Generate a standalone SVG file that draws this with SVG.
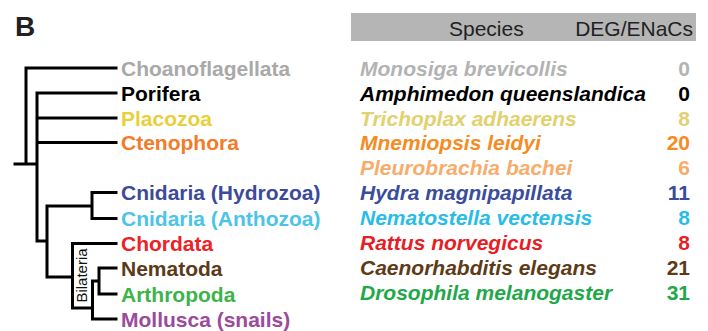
<svg xmlns="http://www.w3.org/2000/svg" width="708" height="331" viewBox="0 0 708 331">
<style>
.t{font-family:"Liberation Sans",Arial,sans-serif;font-size:21px;font-weight:bold}
.s{font-family:"Liberation Sans",Arial,sans-serif;font-size:21px;font-weight:bold;font-style:italic}
.n{font-family:"Liberation Sans",Arial,sans-serif;font-size:21px;font-weight:bold;text-anchor:end}
.h{font-family:"Liberation Sans",Arial,sans-serif;font-size:21px;fill:#222}
.br{fill:none;stroke:#000;stroke-width:3;stroke-linecap:square;stroke-linejoin:miter}
</style>
<rect width="708" height="331" fill="#fff"/>
<text x="15" y="36" font-family="Liberation Sans,Arial,sans-serif" font-size="28" font-weight="bold" fill="#222">B</text>
<g id="connectors">
<path class="br" d="M15,164H37 M26,164V68H116 M37,241V93H116 M37,118H116 M37,142.5H116 M37,241H47 M47,277V206H92 M92,192.5V218.5 M92,192.5H116 M92,218.5H116 M47,277H72.5 M72.5,308V243.5H116 M72.5,308H92.5 M92.5,281V319H116 M92.5,281H99 M99,268V294 M99,268H116 M99,294H116"/>
</g>
<g id="bilateria"><text x="0" y="0" transform="translate(87,275.5) rotate(-90)" text-anchor="middle" font-family="Liberation Sans,Arial,sans-serif" font-size="15" fill="#111">Bilateria</text></g>
<g id="taxa">
<text id="choanoflagellata" class="t" x="121" y="75.5" fill="#a9a9a9">Choanoflagellata</text>
<text id="porifera" class="t" x="121" y="100.5" fill="#000">Porifera</text>
<text id="placozoa" class="t" x="121" y="125.5" fill="#e8cf3c">Placozoa</text>
<text id="ctenophora" class="t" x="121" y="150" fill="#f47b2a">Ctenophora</text>
<text id="hydrozoa" class="t" x="121" y="200" fill="#3c4a9b">Cnidaria (Hydrozoa)</text>
<text id="anthozoa" class="t" x="121" y="226" fill="#4cc4e8">Cnidaria (Anthozoa)</text>
<text id="chordata" class="t" x="121" y="251" fill="#ec2227">Chordata</text>
<text id="nematoda" class="t" x="121" y="275.5" fill="#5b3b17">Nematoda</text>
<text id="arthropoda" class="t" x="121" y="301.5" fill="#3cb44a">Arthropoda</text>
<text id="mollusca" class="t" x="121" y="326.5" fill="#9b4a9c">Mollusca (snails)</text>
</g>
<g id="header">
<rect x="351" y="13" width="345" height="28" fill="#b5b5b5"/>
<text class="h" x="449" y="36">Species</text>
<text class="h" x="693" y="36" text-anchor="end">DEG/ENaCs</text>
</g>
<g id="species">
<text class="s" x="360" y="75.5" fill="#b3b3b3">Monosiga brevicollis</text>
<text class="s" x="360" y="100.5" fill="#000">Amphimedon queenslandica</text>
<text class="s" x="360" y="125.5" fill="#e2d16e">Trichoplax adhaerens</text>
<text class="s" x="360" y="150" fill="#f68b1f">Mnemiopsis leidyi</text>
<text class="s" x="360" y="175" fill="#f8ac6b">Pleurobrachia bachei</text>
<text class="s" x="360" y="200" fill="#3a4c9c">Hydra magnipapillata</text>
<text class="s" x="360" y="225" fill="#29bce8">Nematostella vectensis</text>
<text class="s" x="360" y="250" fill="#e61e25">Rattus norvegicus</text>
<text class="s" x="360" y="275" fill="#5e3b17">Caenorhabditis elegans</text>
<text class="s" x="360" y="300" fill="#1fa84a">Drosophila melanogaster</text>
</g>
<g id="counts">
<text class="n" x="690" y="75.5" fill="#b3b3b3">0</text>
<text class="n" x="690" y="100.5" fill="#000">0</text>
<text class="n" x="690" y="125.5" fill="#e2d16e">8</text>
<text class="n" x="690" y="150" fill="#f68b1f">20</text>
<text class="n" x="690" y="175" fill="#f8ac6b">6</text>
<text class="n" x="690" y="200" fill="#3a4c9c">11</text>
<text class="n" x="690" y="225" fill="#29bce8">8</text>
<text class="n" x="690" y="250" fill="#e61e25">8</text>
<text class="n" x="690" y="275" fill="#5e3b17">21</text>
<text class="n" x="690" y="300" fill="#1fa84a">31</text>
</g>
</svg>
